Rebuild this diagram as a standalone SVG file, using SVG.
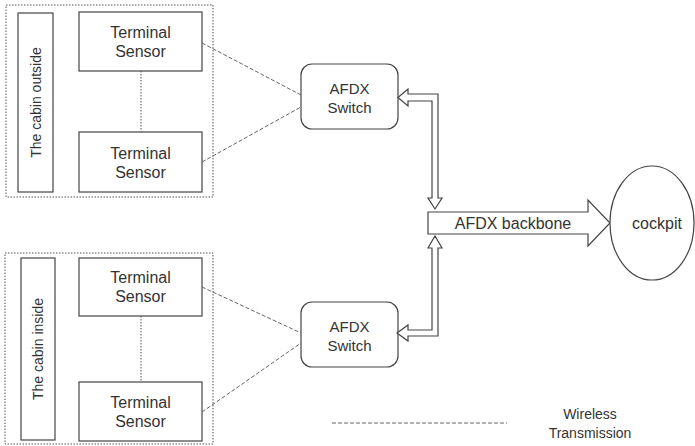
<svg xmlns="http://www.w3.org/2000/svg" width="695" height="446" viewBox="0 0 695 446">
<style>
  text { font-family: "Liberation Sans", Arial, sans-serif; fill: #333; text-anchor: middle; dominant-baseline: central; }
  .box { fill: #fff; stroke: #444; stroke-width: 1.2; }
  .grp { fill: none; stroke: #555; stroke-width: 1; stroke-dasharray: 1.5 1.5; }
  .dot { fill: none; stroke: #555; stroke-width: 1; stroke-dasharray: 1.5 1.5; }
  .dash { fill: none; stroke: #666; stroke-width: 1; stroke-dasharray: 4 2; }
  .arr { fill: #fff; stroke: #444; stroke-width: 1.2; stroke-linejoin: miter; }
  .t16 { font-size: 16px; }
  .t15 { font-size: 15px; }
  .t14 { font-size: 14px; }
</style>
<rect width="695" height="446" fill="#fff"/>

<g id="group-outside">
  <rect class="grp" x="6" y="5" width="207" height="192"/>
  <rect class="box" x="18" y="13" width="35" height="179"/>
  <text class="t14" transform="translate(35.5 102.5) rotate(-90)">The cabin outside</text>
</g>
<g id="sensor-out-1">
  <rect class="box" x="79" y="12" width="123" height="59"/>
  <text class="t16" x="140.5" y="32">Terminal</text>
  <text class="t16" x="140.5" y="51">Sensor</text>
</g>
<g id="sensor-out-2">
  <rect class="box" x="79" y="132" width="123" height="60"/>
  <text class="t16" x="140.5" y="153">Terminal</text>
  <text class="t16" x="140.5" y="172">Sensor</text>
</g>

<g id="group-inside">
  <rect class="grp" x="5" y="253" width="208" height="191"/>
  <rect class="box" x="21" y="258" width="34" height="182"/>
  <text class="t14" transform="translate(38 349) rotate(-90)">The cabin inside</text>
</g>
<g id="sensor-in-1">
  <rect class="box" x="79" y="258" width="123" height="58"/>
  <text class="t16" x="140.5" y="277">Terminal</text>
  <text class="t16" x="140.5" y="296">Sensor</text>
</g>
<g id="sensor-in-2">
  <rect class="box" x="79" y="382" width="123" height="59"/>
  <text class="t16" x="140.5" y="402">Terminal</text>
  <text class="t16" x="140.5" y="421">Sensor</text>
</g>

<g id="switch-top">
  <rect class="box" x="301" y="64" width="97" height="65" rx="11"/>
  <text class="t15" x="349.5" y="88">AFDX</text>
  <text class="t15" x="349.5" y="107">Switch</text>
</g>
<g id="switch-bottom">
  <rect class="box" x="301" y="302" width="97" height="65" rx="11"/>
  <text class="t15" x="349.5" y="326">AFDX</text>
  <text class="t15" x="349.5" y="345">Switch</text>
</g>

<g id="backbone">
  <polygon class="arr" points="428,212 588,212 588,200 610,223 588,246 588,234 428,234"/>
  <text class="t16" x="513" y="223">AFDX backbone</text>
</g>
<g id="cockpit">
  <ellipse class="box" cx="652" cy="223" rx="42" ry="57"/>
  <text class="t16" x="657" y="223">cockpit</text>
</g>

<g id="connectors">
  <line class="dot" x1="141" y1="71" x2="141" y2="132"/>
  <line class="dot" x1="141" y1="316" x2="141" y2="382"/>
  <line class="dash" x1="202" y1="43" x2="301" y2="95"/>
  <line class="dash" x1="202" y1="162" x2="301" y2="107"/>
  <line class="dash" x1="202" y1="287" x2="301" y2="333"/>
  <line class="dash" x1="202" y1="412" x2="301" y2="343"/>
  <polygon class="arr" points="398,97.5 408,89 408,94 438,94 438,198 442,198 435,209 428,198 432,198 432,101 408,101 408,106"/>
  <polygon class="arr" points="435,236 442,248 438,248 438,336 408,336 408,341 397,333 408,325 408,330 432,330 432,248 428,248"/>
</g>

<g id="legend">
  <line class="dash" x1="332" y1="423" x2="507" y2="423"/>
  <text class="t14" x="590" y="414">Wireless</text>
  <text class="t14" x="590" y="433">Transmission</text>
</g>
</svg>
